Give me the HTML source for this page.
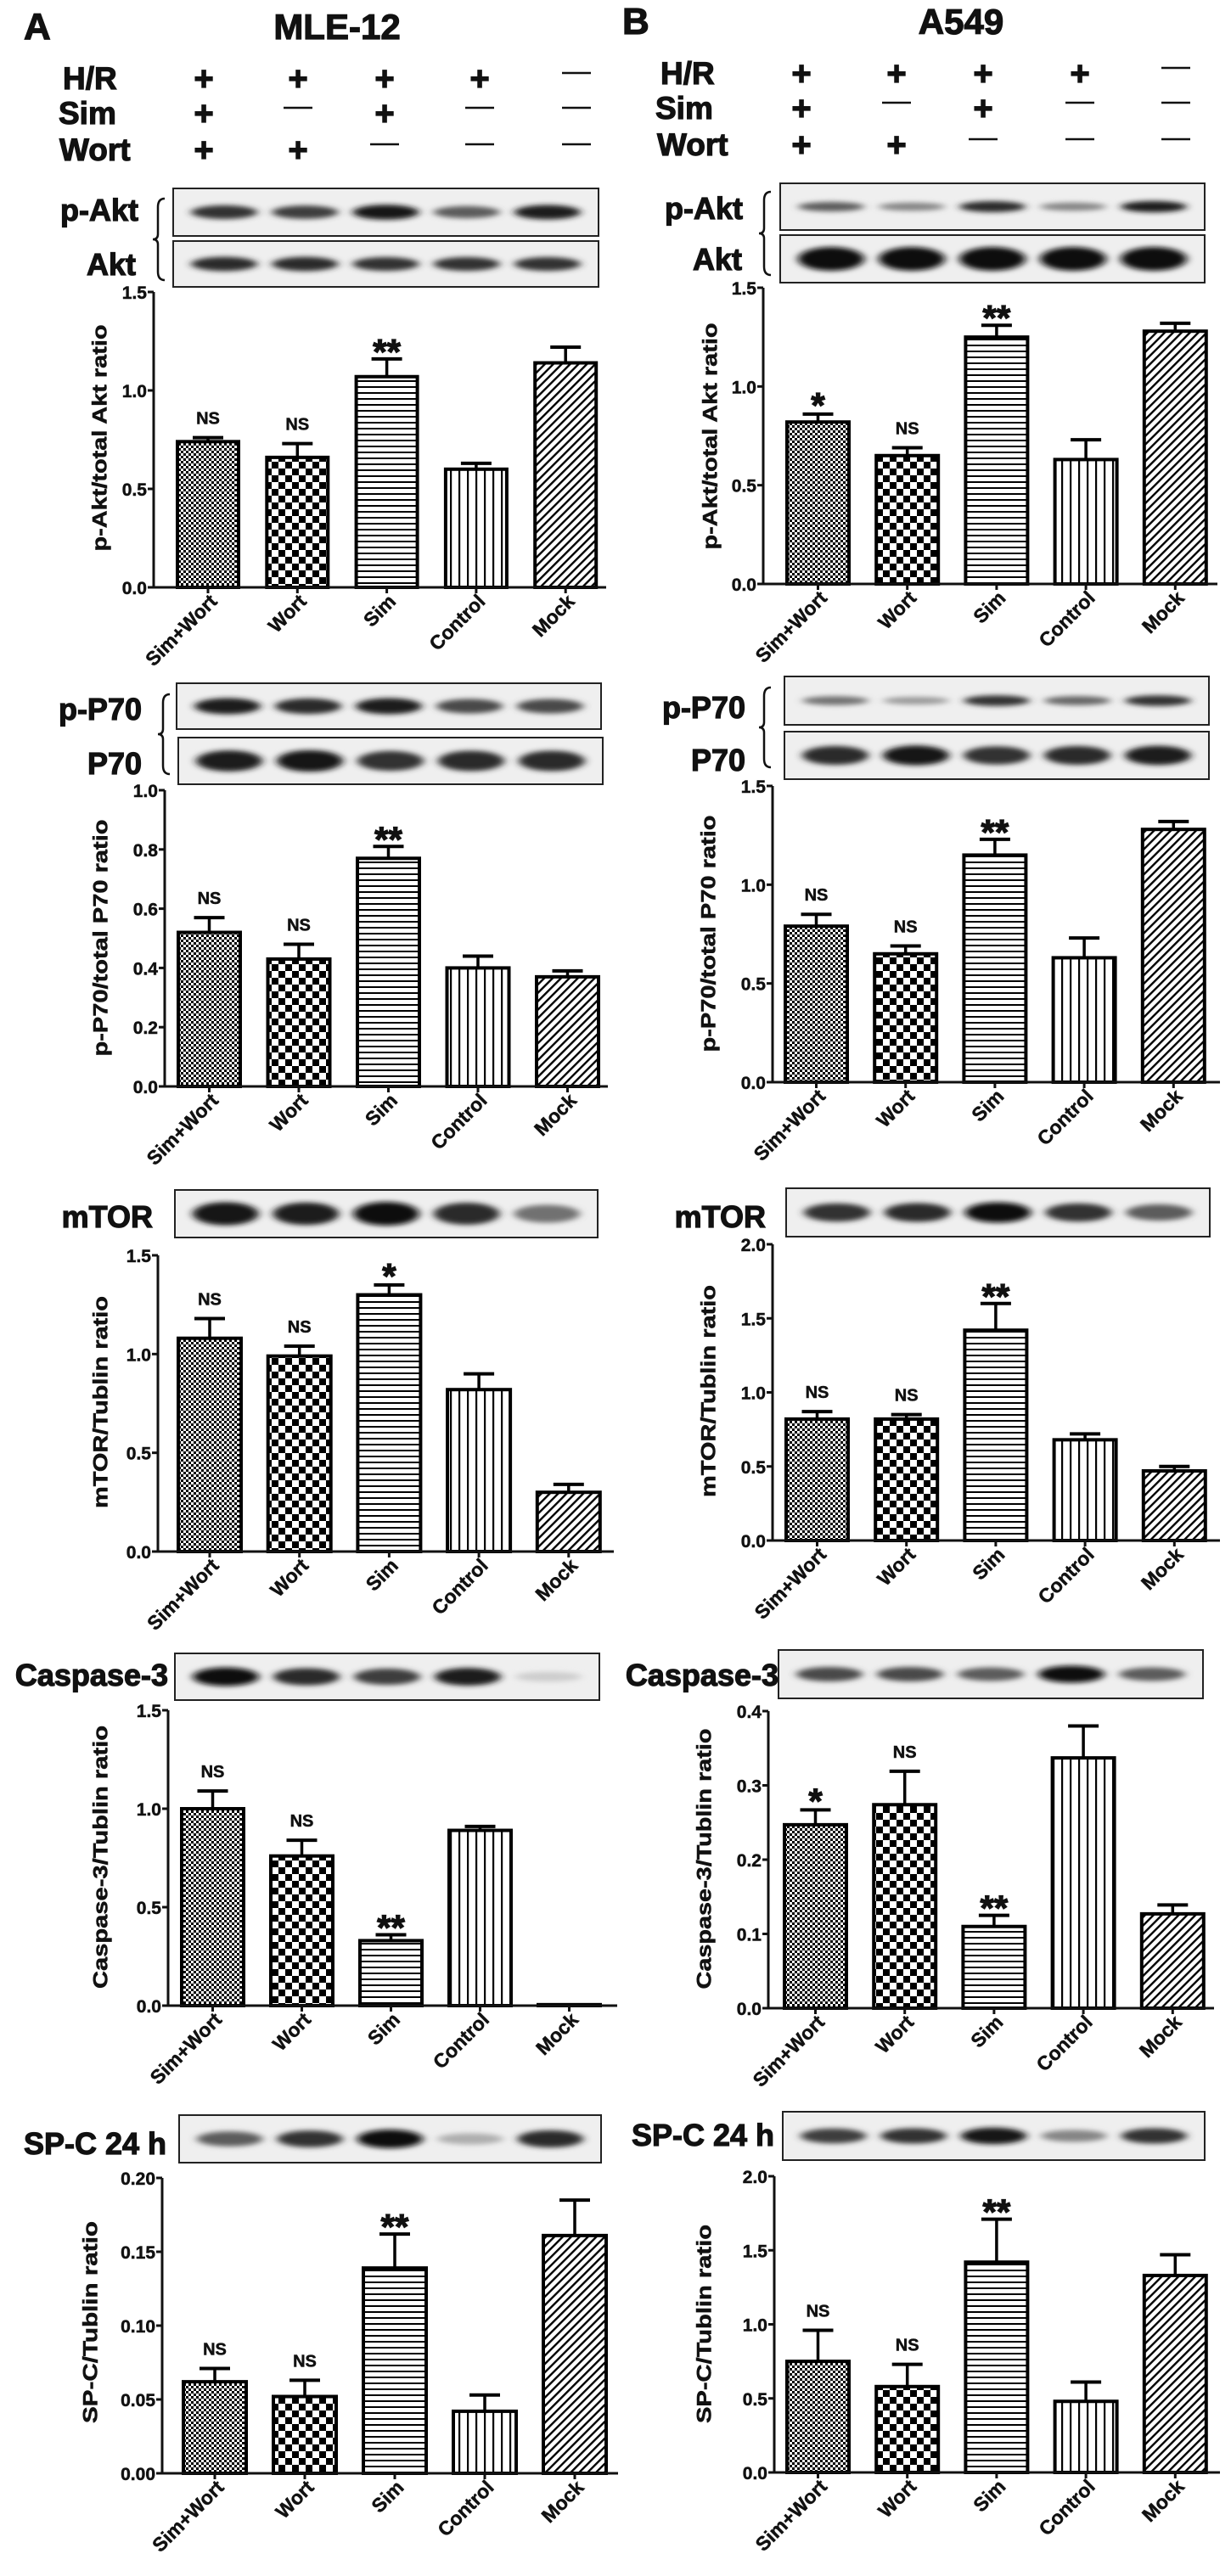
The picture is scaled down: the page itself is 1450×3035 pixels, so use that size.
<!DOCTYPE html>
<html><head><meta charset="utf-8"><style>
html,body{margin:0;padding:0;background:#fff}
svg{display:block;font-family:"Liberation Sans",Arial,sans-serif}
</style></head><body>
<svg id="fig" width="1450" height="3035" viewBox="0 0 1450 3035" xmlns="http://www.w3.org/2000/svg">
<defs>
<pattern id="pFine" patternUnits="userSpaceOnUse" width="6" height="6"><rect width="6" height="6" fill="#fff"/><rect width="3" height="3" fill="#000"/><rect x="3" y="3" width="3" height="3" fill="#000"/></pattern>
<pattern id="pCoarse" patternUnits="userSpaceOnUse" width="16" height="16"><rect width="16" height="16" fill="#fff"/><rect width="8" height="8" fill="#000"/><rect x="8" y="8" width="8" height="8" fill="#000"/></pattern>
<pattern id="pHoriz" patternUnits="userSpaceOnUse" width="8" height="7"><rect width="8" height="7" fill="#fff"/><rect y="0" width="8" height="2" fill="#000"/></pattern>
<pattern id="pVert" patternUnits="userSpaceOnUse" width="10" height="8"><rect width="10" height="8" fill="#fff"/><rect x="0" width="2.2" height="8" fill="#000"/></pattern>
<pattern id="pDiag" patternUnits="userSpaceOnUse" width="7" height="7" patternTransform="rotate(45)"><rect width="7" height="7" fill="#fff"/><rect width="2.4" height="7" fill="#000"/></pattern>
<filter id="blur" x="-30%" y="-100%" width="160%" height="300%"><feGaussianBlur stdDeviation="5 3"/></filter>
</defs>
<g id="root"></g>
</svg>
<script>
// ---------- data ----------
const categories = ["Sim+Wort","Wort","Sim","Control","Mock"];
const aktA = [0.74,0.66,1.07,0.60,1.14];
const aktAErr = [0.02,0.07,0.09,0.03,0.08];
const aktB = [0.82,0.65,1.25,0.63,1.28];
const aktBErr = [0.04,0.04,0.06,0.10,0.04];
const p70A = [0.52,0.43,0.77,0.40,0.37];
const p70AErr = [0.05,0.05,0.04,0.04,0.02];
const p70B = [0.79,0.65,1.15,0.63,1.28];
const p70BErr = [0.06,0.04,0.08,0.10,0.04];
const mtorA = [1.08,0.99,1.30,0.82,0.30];
const mtorAErr = [0.10,0.05,0.05,0.08,0.04];
const mtorB = [0.82,0.82,1.42,0.68,0.47];
const mtorBErr = [0.05,0.03,0.18,0.04,0.03];
const caspA = [1.00,0.76,0.33,0.89,0.005];
const caspAErr = [0.09,0.08,0.03,0.02,0];
const caspB = [0.247,0.274,0.11,0.337,0.127];
const caspBErr = [0.02,0.045,0.015,0.043,0.012];
const spcA = [0.062,0.052,0.139,0.042,0.161];
const spcAErr = [0.009,0.011,0.023,0.011,0.024];
const spcB = [0.75,0.58,1.42,0.48,1.33];
const spcBErr = [0.21,0.15,0.29,0.13,0.14];
const ticks15 = [0,0.5,1.0,1.5];
const ticks10 = [0,0.2,0.4,0.6,0.8,1.0];
const ticks20 = [0,0.5,1.0,1.5,2.0];
const ticks04 = [0,0.1,0.2,0.3,0.4];
const ticks020 = [0,0.05,0.10,0.15,0.20];
const sigAktA = ["NS","NS","**","",""];
const sigAktB = ["*","NS","**","",""];
const sigP70A = ["NS","NS","**","",""];
const sigP70B = ["NS","NS","**","",""];
const sigMtorA = ["NS","NS","*","",""];
const sigMtorB = ["NS","NS","**","",""];
const sigCaspA = ["NS","NS","**","",""];
const sigCaspB = ["*","NS","**","",""];
const sigSpcA = ["NS","NS","**","",""];
const sigSpcB = ["NS","NS","**","",""];

const NS = "http://www.w3.org/2000/svg";
const root = document.getElementById('root');
function el(tag, parent){ const e = document.createElementNS(NS, tag); (parent||root).appendChild(e); return e; }
function txt(parent, s, x, y, size, anchor, name){
  const t = el('text', parent);
  t.setAttribute('x', x); t.setAttribute('y', y);
  t.setAttribute('font-size', size); t.setAttribute('font-weight', 'bold');
  t.setAttribute('text-anchor', anchor||'start'); t.setAttribute('fill', '#111');
  t.setAttribute('stroke', '#111'); t.setAttribute('stroke-width', size>30 ? '1.2' : '0.5');
  t.textContent = s;
  
  
  return t;
}

// ---------- headers ----------
txt(root,"A",28,46,44,'start','panel-a-letter');
txt(root,"MLE-12",397,46,42,'middle','panel-a-title');
txt(root,"B",733,40,44,'start','panel-b-letter');
txt(root,"A549",1132,40,42,'middle','panel-b-title');

function treatTable(rowsY, labelsX, colsX, prefix){
  const labels = ["H/R","Sim","Wort"];
  const marks = [["+","+","+","+","-"],["+","-","+","-","-"],["+","+","-","-","-"]];
  for(let r=0;r<3;r++){
    txt(root, labels[r], labelsX[r], rowsY[r]+13, 37, 'start', prefix+'-row-label-'+labels[r].toLowerCase().replace('/',''));
    for(let c=0;c<5;c++){
      if(marks[r][c]==="+"){
        txt(root,"+",colsX[c],rowsY[r]+14,40,'middle',prefix+'-plus-mark');
      } else {
        const l = el('line');
        l.setAttribute('x1',colsX[c]-17); l.setAttribute('x2',colsX[c]+17);
        l.setAttribute('y1',rowsY[r]-6); l.setAttribute('y2',rowsY[r]-6);
        l.setAttribute('stroke','#111'); l.setAttribute('stroke-width','2.5');
        
        
      }
    }
  }
}
treatTable([92,133,176],[74,69,70],[240,351,453,565,679],'panel-a');
treatTable([86,127,170],[778,772,774],[944,1056,1158,1272,1385],'panel-b');

// ---------- blots ----------
function blot(box, inten, thick, name){
  const g = el('g');
  
  
  const r = el('rect', g);
  r.setAttribute('x',box[0]); r.setAttribute('y',box[1]); r.setAttribute('width',box[2]); r.setAttribute('height',box[3]);
  r.setAttribute('fill','#efefef'); r.setAttribute('stroke','#222'); r.setAttribute('stroke-width','2');
  for(let i=0;i<5;i++){
    const e = el('ellipse', g);
    e.setAttribute('cx', box[0]+box[2]*(0.12+0.19*i));
    e.setAttribute('cy', box[1]+box[3]*0.5);
    e.setAttribute('rx', box[2]*0.078);
    e.setAttribute('ry', thick*(0.5+0.5*inten[i]));
    const v = Math.round(215 - 205*inten[i]);
    e.setAttribute('fill','rgb('+v+','+v+','+v+')');
    e.setAttribute('filter','url(#blur)');
  }
}
function blotLabel(s,x,y,anchor,name){ txt(root,s,x,y+12,36,anchor,name); }
function brace(x,y1,y2,name){
  const p = el('path');
  const m=(y1+y2)/2;
  p.setAttribute('d','M'+(x+8)+','+y1+' Q'+x+','+y1+' '+x+','+(y1+10)+' L'+x+','+(m-6)+' Q'+x+','+m+' '+(x-6)+','+m+' Q'+x+','+m+' '+x+','+(m+6)+' L'+x+','+(y2-10)+' Q'+x+','+y2+' '+(x+8)+','+y2);
  p.setAttribute('fill','none'); p.setAttribute('stroke','#111'); p.setAttribute('stroke-width','2.5');
  
  
}
blot([204,222,501,56],[0.8,0.75,0.95,0.6,0.9],9,'a-pakt-blot');
blot([204,284,501,54],[0.85,0.85,0.8,0.8,0.8],9,'a-akt-blot');
blotLabel("p-Akt",163,248,'end','a-pakt-label'); blotLabel("Akt",160,312,'end','a-akt-label');
brace(186,234,330,'a-akt-brace');
blot([919,216,500,55],[0.6,0.4,0.85,0.4,0.9],7,'b-pakt-blot');
blot([919,277,500,56],[1,1,1,1,1],14,'b-akt-blot');
blotLabel("p-Akt",875,246,'end','b-pakt-label'); blotLabel("Akt",874,306,'end','b-akt-label');
brace(900,226,324,'b-akt-brace');
blot([208,805,500,54],[0.9,0.85,0.9,0.7,0.7],10,'a-pp70-blot');
blot([210,869,500,55],[0.9,0.95,0.8,0.85,0.85],13,'a-p70-blot');
blotLabel("p-P70",167,836,'end','a-pp70-label'); blotLabel("P70",167,900,'end','a-p70-label');
brace(192,818,912,'a-p70-brace');
blot([924,797,500,57],[0.5,0.3,0.8,0.55,0.8],7,'b-pp70-blot');
blot([924,862,500,56],[0.85,0.95,0.8,0.85,0.9],12,'b-p70-blot');
blotLabel("p-P70",878,834,'end','b-pp70-label'); blotLabel("P70",878,896,'end','b-p70-label');
brace(900,810,904,'b-p70-brace');
blot([206,1402,498,56],[0.95,0.9,1,0.85,0.5],14,'a-mtor-blot');
blotLabel("mTOR",180,1434,'end','a-mtor-label');
blot([926,1400,499,57],[0.8,0.85,1,0.8,0.6],12,'b-mtor-blot');
blotLabel("mTOR",902,1434,'end','b-mtor-label');
blot([206,1948,500,55],[1,0.85,0.75,0.9,0.05],11,'a-caspase-blot');
blotLabel("Caspase-3",198,1974,'end','a-caspase-label');
blot([917,1944,500,57],[0.7,0.7,0.6,1,0.6],10,'b-caspase-blot');
blotLabel("Caspase-3",917,1974,'end','b-caspase-label');
blot([211,2492,497,56],[0.6,0.8,1,0.2,0.85],11,'a-spc-blot');
blotLabel("SP-C 24 h",196,2526,'end','a-spc-label');
blot([922,2488,497,57],[0.75,0.8,0.95,0.4,0.8],10,'b-spc-blot');
blotLabel("SP-C 24 h",912,2516,'end','b-spc-label');

// ---------- bar charts ----------
const fills = ['url(#pFine)','url(#pCoarse)','url(#pHoriz)','url(#pVert)','url(#pDiag)'];
function chart(c, vals, errs, ticks, sig, title, name){
  const g = el('g');
  
  
  const ymax = ticks[ticks.length-1];
  const yS = v => c.zero - (v/ymax)*(c.zero-c.top);
  const xS = i => c.x0 + i*c.step;
  const dec = c.dec;
  ticks.forEach(t=>{
    const l = el('line', g);
    l.setAttribute('x1',c.ax-7); l.setAttribute('x2',c.ax); l.setAttribute('y1',yS(t)); l.setAttribute('y2',yS(t));
    l.setAttribute('stroke','#111'); l.setAttribute('stroke-width','3');
    
    
    txt(g, t.toFixed(dec), c.ax-8, yS(t)+8, 21, 'end', 'y-tick-label');
  });
  vals.forEach((v,i)=>{
    const x = xS(i), w=c.bw, cx = x + w/2;
    const r = el('rect', g);
    r.setAttribute('x',x); r.setAttribute('y',yS(v)); r.setAttribute('width',w); r.setAttribute('height',Math.max(0,c.zero-yS(v)));
    r.setAttribute('fill',fills[i]); r.setAttribute('stroke','#000'); r.setAttribute('stroke-width','4');
    
    
    const topE = yS(v+errs[i]);
    if(errs[i]>0){
      const e1 = el('line', g);
      e1.setAttribute('x1',cx); e1.setAttribute('x2',cx); e1.setAttribute('y1',yS(v)); e1.setAttribute('y2',topE);
      e1.setAttribute('stroke','#000'); e1.setAttribute('stroke-width','3.5');
      
      
      const e2 = el('line', g);
      e2.setAttribute('x1',cx-18); e2.setAttribute('x2',cx+18); e2.setAttribute('y1',topE); e2.setAttribute('y2',topE);
      e2.setAttribute('stroke','#000'); e2.setAttribute('stroke-width','4');
      
      
    }
    if(sig[i]==="NS"){ txt(g,"NS",cx,topE-16,20,'middle','significance-label'); }
    else if(sig[i]){ txt(g,sig[i],cx,topE+ (sig[i]==="*"?4:6),42,'middle','significance-label'); }
    const xl = txt(g, categories[i], cx+12, c.zero+18, 23, 'end', 'x-tick-label');
    xl.setAttribute('transform','rotate(-45 '+(cx+12)+' '+(c.zero+18)+')');
    const tk = el('line', g);
    tk.setAttribute('x1',cx); tk.setAttribute('x2',cx); tk.setAttribute('y1',c.zero); tk.setAttribute('y2',c.zero+7);
    tk.setAttribute('stroke','#111'); tk.setAttribute('stroke-width','3');
    
    
  });
  const ya = el('line', g);
  ya.setAttribute('x1',c.ax); ya.setAttribute('x2',c.ax); ya.setAttribute('y1',c.top); ya.setAttribute('y2',c.zero);
  ya.setAttribute('stroke','#111'); ya.setAttribute('stroke-width','3');
  
  
  const xa = el('line', g);
  xa.setAttribute('x1',c.ax); xa.setAttribute('x2',c.xEnd); xa.setAttribute('y1',c.zero); xa.setAttribute('y2',c.zero);
  xa.setAttribute('stroke','#111'); xa.setAttribute('stroke-width','3');
  
  
  const yt = txt(g, title, 0, 0, 24, 'middle', 'y-axis-title');
  yt.setAttribute('textLength', c.tl); yt.setAttribute('lengthAdjust','spacingAndGlyphs');
  yt.setAttribute('dominant-baseline','central');
  yt.setAttribute('transform','translate('+c.tx+' '+c.ty+') rotate(-90)');
}
chart({ax:181,top:344,zero:692,x0:209,step:105.3,bw:72,xEnd:714,dec:1,tl:267,tx:118,ty:516}, aktA, aktAErr, ticks15, sigAktA, "p-Akt/total Akt ratio", 'a-pakt-chart');
chart({ax:899,top:339,zero:688,x0:927,step:105.2,bw:73,xEnd:1434,dec:1,tl:267,tx:837,ty:514}, aktB, aktBErr, ticks15, sigAktB, "p-Akt/total Akt ratio", 'b-pakt-chart');
chart({ax:194,top:931,zero:1280,x0:210,step:105.5,bw:73,xEnd:716,dec:1,tl:279,tx:119,ty:1105}, p70A, p70AErr, ticks10, sigP70A, "p-P70/total P70 ratio", 'a-pp70-chart');
chart({ax:910,top:926,zero:1275,x0:925,step:105.2,bw:73,xEnd:1437,dec:1,tl:279,tx:835,ty:1100}, p70B, p70BErr, ticks15, sigP70B, "p-P70/total P70 ratio", 'b-pp70-chart');
chart({ax:186,top:1479,zero:1828,x0:210,step:105.7,bw:74,xEnd:723,dec:1,tl:250,tx:119,ty:1652}, mtorA, mtorAErr, ticks15, sigMtorA, "mTOR/Tublin ratio", 'a-mtor-chart');
chart({ax:910,top:1466,zero:1815,x0:926,step:105.2,bw:73,xEnd:1437,dec:1,tl:250,tx:835,ty:1639}, mtorB, mtorBErr, ticks20, sigMtorB, "mTOR/Tublin ratio", 'b-mtor-chart');
chart({ax:198,top:2015,zero:2363,x0:214,step:105,bw:73,xEnd:727,dec:1,tl:310,tx:119,ty:2188}, caspA, caspAErr, ticks15, sigCaspA, "Caspase-3/Tublin ratio", 'a-caspase-chart');
chart({ax:905,top:2016,zero:2366,x0:924,step:105.2,bw:73,xEnd:1430,dec:1,tl:307,tx:830,ty:2190}, caspB, caspBErr, ticks04, sigCaspB, "Caspase-3/Tublin ratio", 'b-caspase-chart');
chart({ax:191,top:2566,zero:2914,x0:216,step:106,bw:74,xEnd:728,dec:2,tl:238,tx:107,ty:2736}, spcA, spcAErr, ticks020, sigSpcA, "SP-C/Tublin ratio", 'a-spc-chart');
chart({ax:912,top:2564,zero:2913,x0:927,step:105.2,bw:73,xEnd:1437,dec:1,tl:234,tx:830,ty:2738}, spcB, spcBErr, ticks20, sigSpcB, "SP-C/Tublin ratio", 'b-spc-chart');
</script>
</body></html>
